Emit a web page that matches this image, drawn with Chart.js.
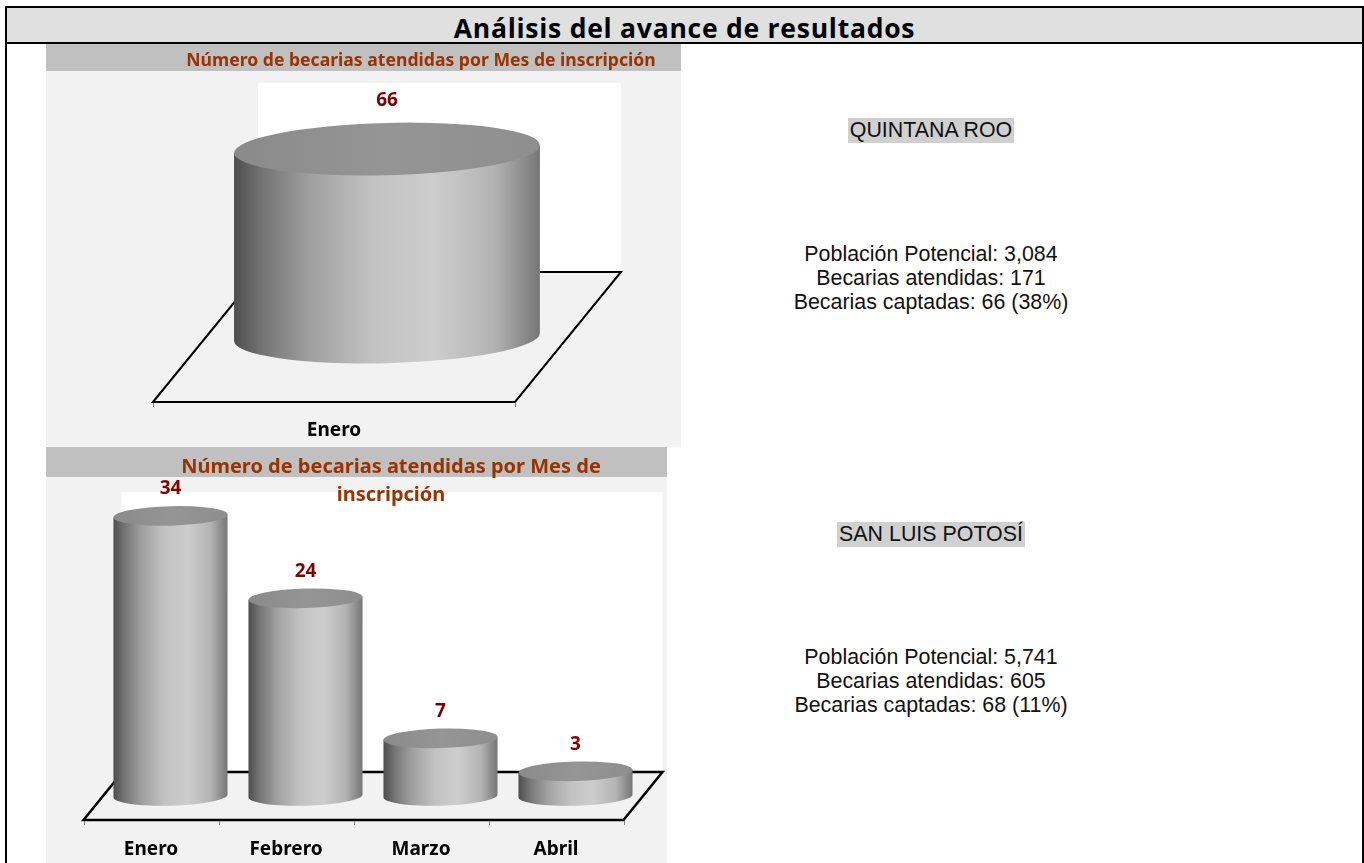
<!DOCTYPE html>
<html lang="es"><head><meta charset="utf-8">
<script src="https://cdn.jsdelivr.net/npm/chart.js@4/dist/chart.umd.min.js"></script>
<style>
html,body{margin:0;padding:0;background:#fff;overflow:hidden}
#page{position:relative;width:1364px;height:863px;overflow:hidden}
#frame{position:absolute;left:5px;top:6px;width:1359px;height:857px;border:2px solid #000;border-bottom:none;box-sizing:border-box}
#head{position:absolute;left:7px;top:8px;width:1355px;height:34px;background:#e0e0e0;border-bottom:2px solid #000;text-align:center;font:bold 26.5px/40px "Open Sans",sans-serif;letter-spacing:.75px;color:#000}
canvas{position:absolute;display:block}
#c1{left:46px;top:44px}
#c2{left:46px;top:447px}
.t{position:absolute;left:731px;width:400px;text-align:center;font:21.4px/24px "Liberation Sans",Arial,sans-serif;color:#111}
.t span{background:#d0d0d0;display:inline-block;padding:0 2px;line-height:25px}
</style></head><body>
<div id="page">
<div id="frame"></div>
<div id="head">Análisis del avance de resultados</div>
<canvas id="c1" width="635" height="403"></canvas>
<canvas id="c2" width="621" height="416"></canvas>
<div class="t" style="top:118px"><span>QUINTANA ROO</span></div>
<div class="t" style="top:242px">Población Potencial: 3,084<br>Becarias atendidas: 171<br>Becarias captadas: 66 (38%)</div>
<div class="t" style="top:522px"><span>SAN LUIS POTOSÍ</span></div>
<div class="t" style="top:645px">Población Potencial: 5,741<br>Becarias atendidas: 605<br>Becarias captadas: 68 (11%)</div>
</div>
<script>
const categoriesQR = ['Enero'];
const valuesQR = [66];
const categoriesSLP = ['Enero', 'Febrero', 'Marzo', 'Abril'];
const valuesSLP = [34, 24, 7, 3];
const titleQR = 'Número de becarias atendidas por Mes de inscripción';
const titleSLP = ['Número de becarias atendidas por Mes de', 'inscripción'];

const cylinder = {
  id: 'cylinder',
  beforeDraw(chart, args, o) {
    const {ctx, chartArea: a, width, height} = chart;
    ctx.save();
    ctx.fillStyle = '#f2f2f2'; ctx.fillRect(0, 0, width, height);
    ctx.fillStyle = '#c0c0c0'; ctx.fillRect(0, 0, width, o.bandH);
    ctx.fillStyle = '#fff';
    ctx.fillRect(a.left + o.dx/2 - 1, a.top, a.width + 1, a.bottom - o.dy/2 - a.top);
    ctx.restore();
  },
  beforeDatasetsDraw(chart, args, o) {
    const {ctx, chartArea: a} = chart;
    const hx = o.dx/2, hy = o.dy/2;
    const fl = a.left - hx, fr = a.right - hx, bl = a.left + hx, br = a.right + hx;
    const fy = a.bottom + hy, by = a.bottom - hy;
    ctx.save();
    ctx.strokeStyle = '#000'; ctx.lineWidth = o.lw; ctx.lineJoin = 'miter';
    ctx.beginPath(); ctx.moveTo(fl, fy); ctx.lineTo(bl, by); ctx.lineTo(br, by); ctx.lineTo(fr, fy); ctx.closePath(); ctx.stroke();
    ctx.strokeStyle = '#808080'; ctx.lineWidth = 1;
    const n = chart.data.labels.length;
    ctx.beginPath();
    for (let i = 0; i <= n; i++) { const x = Math.round(fl + (fr - fl) * i / n) + .5; ctx.moveTo(x, fy + 1); ctx.lineTo(x, fy + 5); }
    ctx.stroke();
    ctx.restore();
  },
  beforeDatasetDraw(chart, args, o) {
    const {ctx} = chart;
    const meta = args.meta;
    const values = chart.data.datasets[args.index].data;
    const base = chart.scales.y.getPixelForValue(0);
    const tilt = -1.5 * Math.PI / 180;
    meta.data.forEach((el, i) => {
      const w = el.width, rx = w/2, ry = w * 0.0855, cx = el.x, top = el.y;
      const dt = Math.tan(-tilt) * rx;
      const g = ctx.createLinearGradient(cx - rx, 0, cx + rx, 0);
      g.addColorStop(0, '#4e4e4e'); g.addColorStop(.1, '#767676'); g.addColorStop(.25, '#a0a0a0');
      g.addColorStop(.45, '#c2c2c2'); g.addColorStop(.65, '#cdcdcd'); g.addColorStop(.85, '#b4b4b4'); g.addColorStop(1, '#767676');
      ctx.save();
      ctx.beginPath();
      ctx.moveTo(cx - rx, top + dt);
      ctx.lineTo(cx - rx, base + dt);
      ctx.ellipse(cx, base, rx, ry, tilt, Math.PI, 0, true);
      ctx.lineTo(cx + rx, top - dt);
      ctx.closePath();
      ctx.fillStyle = g; ctx.fill();
      const g2 = ctx.createLinearGradient(cx - rx, 0, cx + rx, 0);
      g2.addColorStop(0, '#8a8a8a'); g2.addColorStop(.5, '#959595'); g2.addColorStop(1, '#8e8e8e');
      ctx.beginPath(); ctx.ellipse(cx, top, rx, ry, tilt, 0, Math.PI * 2);
      ctx.fillStyle = g2; ctx.fill();
      ctx.fillStyle = '#800000'; ctx.textAlign = 'center'; ctx.textBaseline = 'middle';
      ctx.font = 'bold ' + o.valueSize + 'px "Noto Sans", sans-serif';
      ctx.fillText(String(values[i]), cx, top - o.valueGap);
      ctx.restore();
    });
    return false;
  },
  afterLayout(chart, args, o) {
    const tb = chart.titleBlock;
    if (tb) { tb.left = o.titleCenter - 300; tb.right = o.titleCenter + 300; tb.width = 600; }
  }
};

function make(id, labels, values, title, titleSize, titleLH, titlePad, yMax, pad, axisH, tickPad, cyl) {
  return new Chart(document.getElementById(id), {
    type: 'bar',
    data: { labels, datasets: [{ data: values, backgroundColor: '#b0b0b0', categoryPercentage: 1, barPercentage: 0.845 }] },
    plugins: [cylinder],
    options: {
      responsive: false, animation: false,
      layout: { padding: pad },
      plugins: {
        legend: { display: false }, tooltip: { enabled: false },
        title: { display: true, text: title, color: '#993300', padding: titlePad,
                 font: { family: '"Noto Sans", sans-serif', weight: 'bold', size: titleSize, lineHeight: titleLH + 'px' } },
        cylinder: cyl
      },
      scales: {
        y: { display: false, min: 0, max: yMax },
        x: { grid: { display: false, drawTicks: false }, border: { display: false },
             afterFit(s) { s.height = axisH; },
             ticks: { color: '#000', padding: tickPad, autoSkip: false, maxRotation: 0, labelOffset: -cyl.dx / 2,
                      font: { family: '"Noto Sans", sans-serif', weight: 'bold', size: 19 } } }
      }
    }
  });
}
make('c1', categoriesQR, valuesQR, titleQR, 17.6, 20, {top: 7, bottom: 12}, 89.2,
  {left: 160, right: 113, top: 0, bottom: 0}, 110, 82,
  {dx: 106, dy: 130, lw: 2, bandH: 27, titleCenter: 375, valueGap: 48, valueSize: 19});
make('c2', categoriesSLP, valuesSLP, titleSLP, 20, 28, {top: 6, bottom: -17}, 36.9,
  {left: 57, right: 24, top: 0, bottom: 0}, 67, 42,
  {dx: 39, dy: 48, lw: 2.5, bandH: 30, titleCenter: 345, valueGap: 27, valueSize: 19});
</script>
</body></html>
